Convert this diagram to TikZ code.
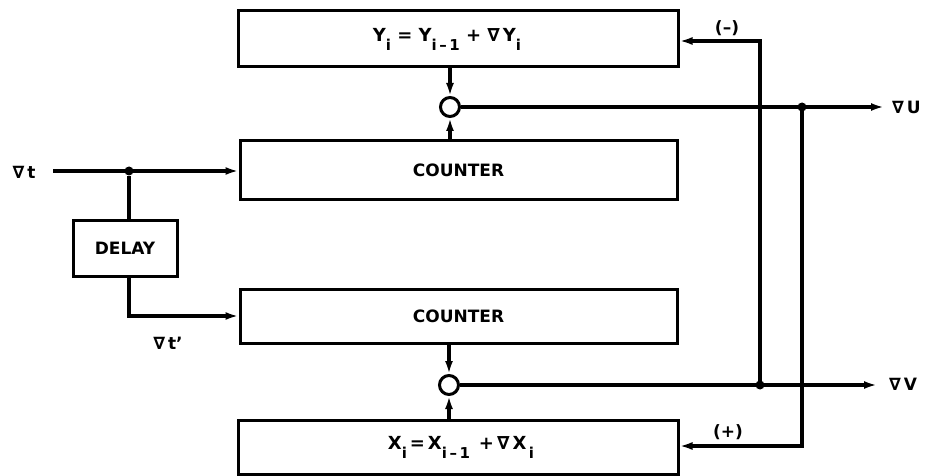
\documentclass[tikz,border=0pt]{standalone}
\usepackage{fontspec}
\setmainfont{DejaVu Sans}
\usetikzlibrary{arrows.meta,calc}
\newcommand{\dn}[1]{\raisebox{-9pt}{\fontsize{15}{15}\selectfont #1}}
\newcommand{\nab}{∇}
\begin{document}
\begin{tikzpicture}[x=1pt,y=-1pt,
  every node/.style={font=\fontsize{17}{17}\selectfont\bfseries},
  eq/.style={font=\fontsize{18}{18}\selectfont\bfseries},
  blk/.style={draw,line width=3pt,inner sep=0pt},
  sumc/.style={draw,circle,line width=3pt,minimum size=19pt,inner sep=0pt,fill=white},
  dotj/.style={circle,fill=black,minimum size=9pt,inner sep=0pt},
  wire/.style={line width=3.4pt},
  arr/.style={wire,-{Latex[length=13pt,width=8pt]}},
  lbl/.style={inner sep=0pt}]
\useasboundingbox (0,0) rectangle (927,476);
% blocks
\node[blk,eq,minimum width=440pt,minimum height=56pt] (ybox) at (458,39)
  {Y\dn{i} = Y\dn{i\,–\,1} + \nab\,Y\dn{i}\hspace*{22pt}};
\node[blk,minimum width=437pt,minimum height=59pt] (c1) at (458.5,170.5) {COUNTER};
\node[blk,minimum width=437pt,minimum height=54pt] (c2) at (458.5,316) {COUNTER};
\node[blk,eq,minimum width=440pt,minimum height=54pt] (xbox) at (458,447)
  {\hspace*{6pt}X\dn{i}\,=\,X\dn{i\,–\,1}\enspace+\,\nab\,X\dn{\,i}};
\node[blk,minimum width=104pt,minimum height=56pt] (delay) at (125,248) {DELAY};
% summing circles
\node[sumc] (s1) at (450,107) {};
\node[sumc] (s2) at (449,385) {};
% junctions and terminals
\node[dotj] (j1) at (129,171) {};
\node[dotj] (jU) at (802,107) {};
\node[dotj] (jV) at (760,385) {};
\coordinate (tin) at (53,171);
\coordinate (outU) at (884,107);
\coordinate (outV) at (877,385);
% labels
\node[lbl] (lt) at (24,172) {\nab\,t};
\node[lbl] (ltp) at (168,343) {\nab\,t'};
\node[lbl,anchor=west] (lU) at (892,107) {\nab\,U};
\node[lbl,anchor=west] (lV) at (889,384) {\nab\,V};
\node[lbl] (lm) at (727,28) {(–)};
\node[lbl] (lp) at (728,432) {(+)};
% input paths
\draw[arr] (tin) -- (c1.west |- tin);
\draw[wire] (j1) -- (delay.north -| j1);
\draw[arr] (delay.south -| j1) |- (c2.west);
% into summing nodes
\draw[arr] (ybox.south -| s1) -- (s1.north);
\draw[arr] (c1.north -| s1) -- (s1.south);
\draw[arr] (c2.south -| s2) -- (s2.north);
\draw[arr] (xbox.north -| s2) -- (s2.south);
% outputs
\draw[arr] (s1.east) -- (outU);
\draw[arr] (s2.east) -- (outV);
% feedback
\draw[arr] (jV.center) -- (760,41) -- (ybox.east |- 0,41);
\draw[arr] (jU.center) -- (802,446) -- (xbox.east |- 0,446);
\end{tikzpicture}
\end{document}
